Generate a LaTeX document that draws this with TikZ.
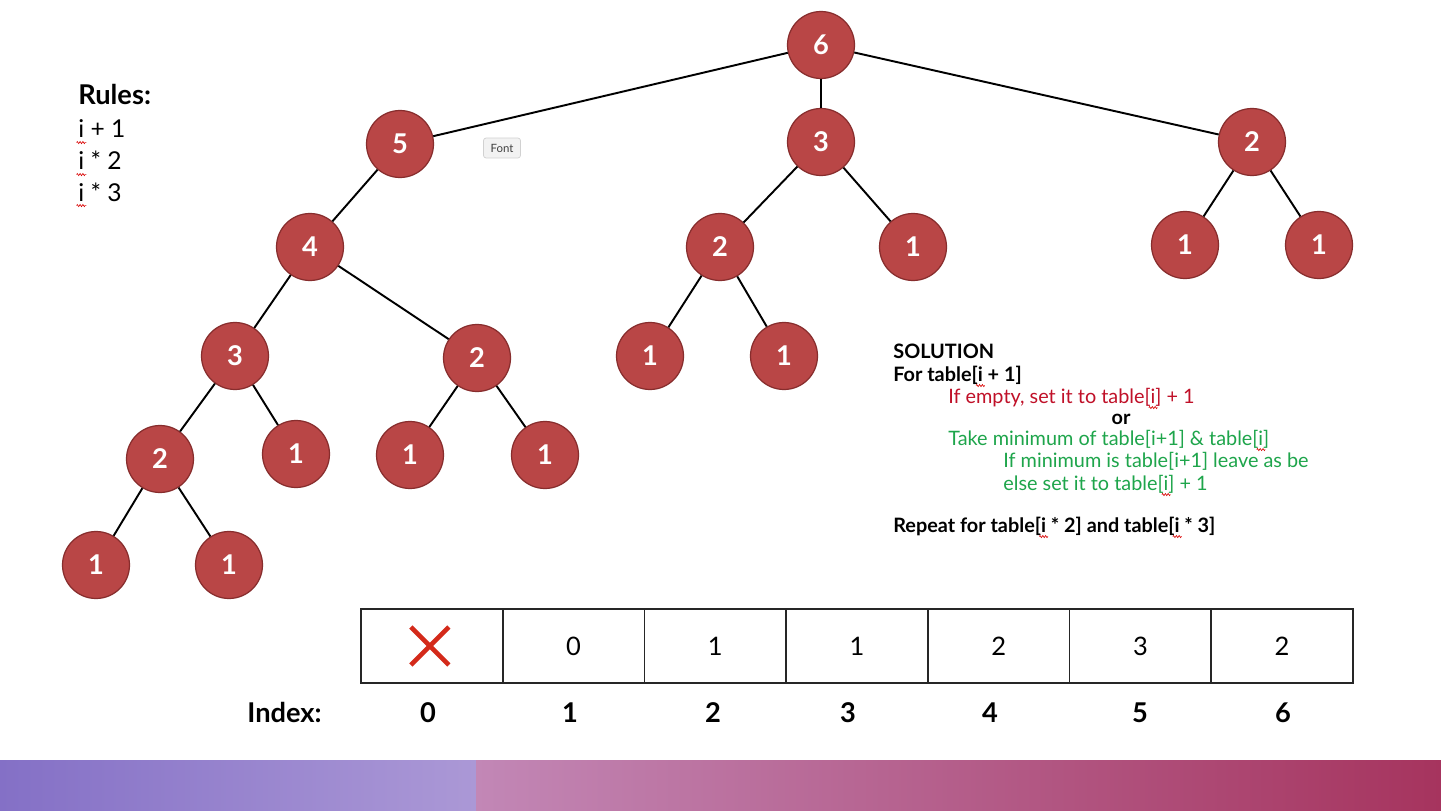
\documentclass[tikz,border=0pt]{standalone}
\usepackage{fontspec}
\setmainfont{Lato}
\usetikzlibrary{calc,decorations.pathmorphing}

\definecolor{nodered}{RGB}{185,70,70}
\definecolor{noderim}{RGB}{135,45,45}
\definecolor{crossred}{RGB}{212,42,26}
\definecolor{solred}{RGB}{192,16,40}
\definecolor{solgreen}{RGB}{30,165,75}
\definecolor{barA}{RGB}{132,112,198}
\definecolor{barB}{RGB}{171,152,214}
\definecolor{barC}{RGB}{194,135,182}
\definecolor{barD}{RGB}{166,52,94}

% red wave under a word, as the spell checker marks it
\newcommand{\spell}[1]{\tikz[baseline=(w.base),x=1pt,y=1pt]{\node[inner sep=0pt,outer sep=0pt] (w) {#1};
  \draw[overlay,red!85!black,line width=.35pt,decorate,decoration={zigzag,amplitude=.6pt,segment length=1.6pt}]
    ([xshift=-1pt,yshift=-2.6pt]w.south west) -- ([xshift=1.2pt,yshift=-2.6pt]w.south east);}}

\tikzset{
  vertex/.style={circle, fill=nodered, draw=noderim, line width=.7pt, minimum size=1.34cm,
    inner sep=0pt, text=white, font=\fontsize{15.5}{18}\selectfont\bfseries},
  edge/.style={line width=1.1pt},
  cell/.style={draw=black!85, line width=.9pt, minimum width=2.834cm, minimum height=1.48cm,
    inner sep=0pt, font=\fontsize{14.5}{16}\selectfont},
  idx/.style={anchor=base, inner sep=0pt, font=\fontsize{15.5}{18}\selectfont\bfseries},
  rule/.style={anchor=base west, inner sep=0pt, font=\fontsize{14}{16}\selectfont},
  sol/.style={anchor=base west, inner sep=0pt, font=\fontsize{11.3}{13}\selectfont},
  solbold/.style={sol, font=\fontsize{11.3}{13}\selectfont\bfseries}
}

\begin{document}
\begin{tikzpicture}[x=0.02cm,y=-0.02cm]

	\useasboundingbox (0,0) rectangle (1441,811);
	\fill[white] (0,0) rectangle (1441,811);

	% bar at the foot of the slide
	\shade[left color=barA, right color=barB] (0,760) rectangle (476,811);
	\shade[left color=barC, right color=barD] (476,760) rectangle (1441,811);

	% call tree
	\foreach \name/\x/\y/\val in {six/821/45/6,
		five/400/144/5, threeA/821/142/3, twoA/1252/142/2,
		four/310/247/4, twoB/720/247/2, oneA/913/247/1, oneB/1185/245/1, oneC/1319/245/1,
		threeB/235/356/3, twoC/477/358/2, oneD/650/356/1, oneE/784/356/1,
		twoD/160/459/2, oneF/296/454/1, oneG/410/455/1, oneH/545/455/1,
		oneI/96/565/1, oneJ/229/565/1}{
		\node[vertex] (\name) at (\x,\y) {\val};
	}

	\foreach \a/\b in {six/five, six/threeA, six/twoA, five/four,
		threeA/twoB, threeA/oneA, twoA/oneB, twoA/oneC,
		four/threeB, four/twoC, twoB/oneD, twoB/oneE,
		threeB/twoD, threeB/oneF, twoC/oneG, twoC/oneH,
		twoD/oneI, twoD/oneJ}{
		\draw[edge] (\a) -- (\b);
	}

	% tooltip left on the slide
	\node[draw=black!18, fill=black!5, rounded corners=1.5pt, minimum width=0.74cm, minimum height=0.4cm,
		inner sep=0pt, text=black!75, font=\fontsize{6.5}{8}\selectfont] (tip) at (502,148) {Font};

	% rules
	\node[rule, font=\fontsize{15.5}{18}\selectfont\bfseries] (rules) at (78,105) {Rules:};
	\node[rule] (ruleA) at (78,138) {\spell{i} + 1};
	\node[rule] (ruleB) at (78,170) {\spell{i} * 2};
	\node[rule] (ruleC) at (78,201) {\spell{i} * 3};

	% solution
	\node[solbold] (solA) at (893,358) {SOLUTION};
	\node[solbold] (solB) at (893,381) {For table[\spell{i} + 1]};
	\node[sol, text=solred] (solC) at (948,403) {If empty, set it to table[\spell{i}] + 1};
	\node[solbold, anchor=base] (solD) at (1121,424) {or};
	\node[sol, text=solgreen] (solE) at (948,445) {Take minimum of table[i+1] \& table[\spell{i}]};
	\node[sol, text=solgreen] (solF) at (1003,467) {If minimum is table[i+1] leave as be};
	\node[sol, text=solgreen] (solG) at (1003,490) {else set it to table[\spell{i}] + 1};
	\node[solbold] (solH) at (893,532) {Repeat for table[\spell{i} * 2] and table[\spell{i} * 3]};

	% table and its indices
	\foreach \k/\v in {0/{}, 1/0, 2/1, 3/1, 4/2, 5/3, 6/2}{
		\node[cell] (c\k) at ({361+141.71*(\k+0.5)},646) {\v};
	}
	\draw[crossred, line width=2.6pt] ($(c0)+(-21,-19)$) -- ($(c0)+(17,19)$);
	\draw[crossred, line width=2.6pt] ($(c0)+(-21,19)$) -- ($(c0)+(17,-19)$);

	\node[idx, anchor=base west] (index) at (247,722) {Index:};
	\foreach \k/\x in {0/428, 1/570, 2/713, 3/848, 4/990, 5/1140, 6/1283}{
		\node[idx] (i\k) at (\x,722) {\k};
	}

\end{tikzpicture}
\end{document}
